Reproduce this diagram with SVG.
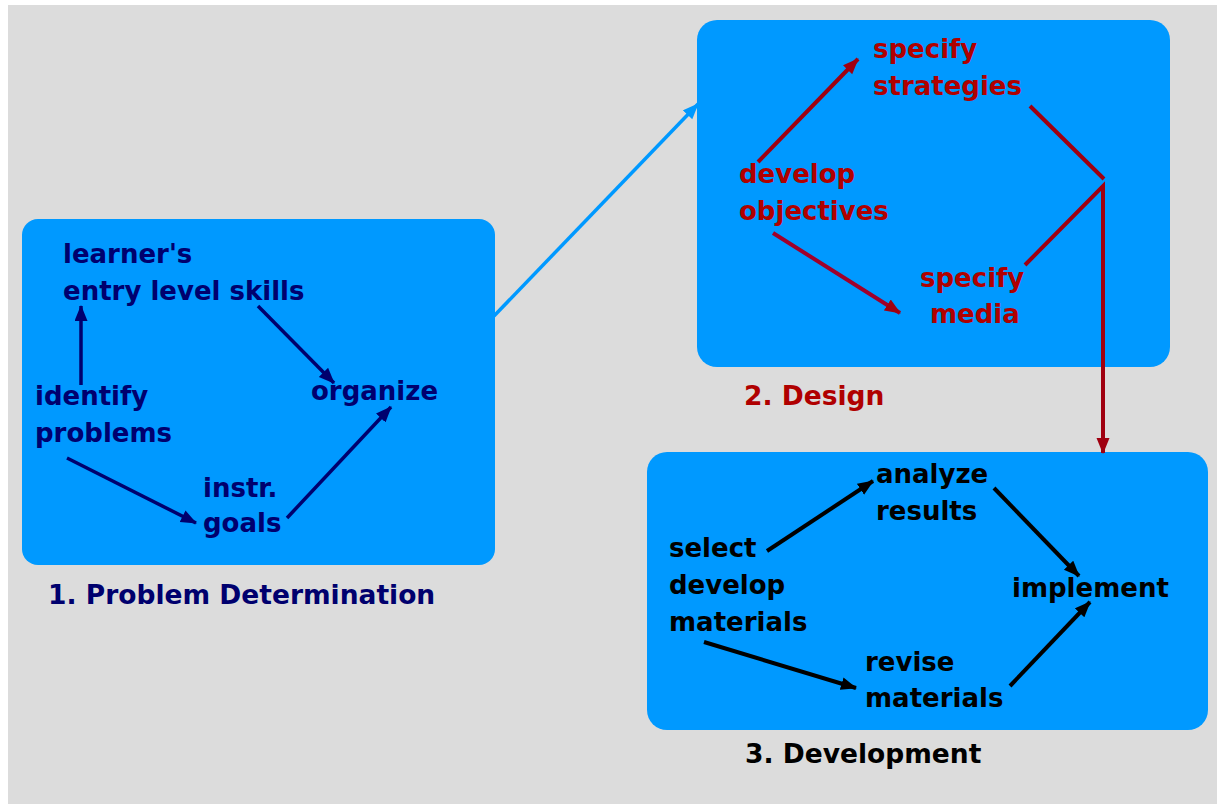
<svg xmlns="http://www.w3.org/2000/svg" width="1217" height="804" viewBox="0 0 1217 804">
<style>
.box{fill:#0099ff}
text{font-family:"DejaVu Sans",Verdana,sans-serif;font-weight:bold;font-size:26px}
.ttl{font-size:26.5px}
.navy{fill:#00006e}
.red{fill:#b00000}
.blk{fill:#000000}
.cn{fill:none;stroke-linecap:butt}
</style>
<defs>
<marker id="aN" markerUnits="userSpaceOnUse" markerWidth="18" markerHeight="14" refX="15" refY="6.5" orient="auto"><path d="M0,0 L16,6.5 L0,13 Z" fill="#00006e"/></marker>
<marker id="aR" markerUnits="userSpaceOnUse" markerWidth="18" markerHeight="14" refX="15" refY="6.5" orient="auto"><path d="M0,0 L16,6.5 L0,13 Z" fill="#a00010"/></marker>
<marker id="aK" markerUnits="userSpaceOnUse" markerWidth="18" markerHeight="14" refX="15" refY="6.5" orient="auto"><path d="M0,0 L16,6.5 L0,13 Z" fill="#000000"/></marker>
<marker id="aB" markerUnits="userSpaceOnUse" markerWidth="18" markerHeight="14" refX="15" refY="6.5" orient="auto"><path d="M0,0 L16,6.5 L0,13 Z" fill="#0099ff"/></marker>
</defs>
<rect x="0" y="0" width="1217" height="804" fill="#ffffff"/>
<rect x="8" y="5" width="1209" height="799" fill="#dcdcdc"/>

<g id="problem-determination">
<rect class="box" x="22" y="219" width="473" height="346" rx="16"/>
<text class="navy ttl" x="48" y="604">1. Problem Determination</text>
</g>
<g id="design">
<rect class="box" x="697" y="20" width="473" height="347" rx="20"/>
<text class="red ttl" x="744" y="405">2. Design</text>
</g>
<g id="development">
<rect class="box" x="647" y="452" width="561" height="278" rx="20"/>
<text class="blk ttl" x="745" y="763">3. Development</text>
</g>

<g id="learners-skills"><text class="navy" x="63" y="263">learner's</text><text class="navy" x="63" y="300">entry level skills</text></g>
<g id="identify-problems"><text class="navy" x="35" y="405">identify</text><text class="navy" x="35" y="442">problems</text></g>
<g id="organize"><text class="navy" x="311" y="400">organize</text></g>
<g id="instr-goals"><text class="navy" x="203" y="497">instr.</text><text class="navy" x="203" y="532">goals</text></g>

<g id="specify-strategies"><text class="red" x="873" y="58">specify</text><text class="red" x="873" y="95">strategies</text></g>
<g id="develop-objectives"><text class="red" x="739" y="183">develop</text><text class="red" x="739" y="220">objectives</text></g>
<g id="specify-media"><text class="red" x="920" y="287">specify</text><text class="red" x="930" y="323">media</text></g>

<g id="analyze-results"><text class="blk" x="876" y="483">analyze</text><text class="blk" x="876" y="520">results</text></g>
<g id="select-develop"><text class="blk" x="669" y="557">select</text><text class="blk" x="669" y="594">develop</text><text class="blk" x="669" y="631">materials</text></g>
<g id="implement"><text class="blk" x="1012" y="597">implement</text></g>
<g id="revise-materials"><text class="blk" x="865" y="671">revise</text><text class="blk" x="865" y="707">materials</text></g>

<g id="connectors" class="cn">
<line x1="494" y1="316" x2="698" y2="104" stroke="#0099ff" stroke-width="3.5" marker-end="url(#aB)"/>
<line x1="81" y1="385" x2="81" y2="306" stroke="#00006e" stroke-width="3.5" marker-end="url(#aN)"/>
<line x1="258" y1="306" x2="334" y2="383" stroke="#00006e" stroke-width="3.5" marker-end="url(#aN)"/>
<line x1="67" y1="458" x2="196" y2="523" stroke="#00006e" stroke-width="3.5" marker-end="url(#aN)"/>
<line x1="287" y1="518" x2="391" y2="407" stroke="#00006e" stroke-width="3.5" marker-end="url(#aN)"/>
<line x1="758" y1="162" x2="858" y2="59" stroke="#a00010" stroke-width="4" marker-end="url(#aR)"/>
<line x1="773" y1="233" x2="900" y2="313" stroke="#a0002a" stroke-width="4" marker-end="url(#aR)"/>
<polyline points="1030,106 1104,179" stroke="#a00010" stroke-width="4"/>
<polyline points="1025,265 1103,186 1103,453" stroke="#a00010" stroke-width="4" fill="none" marker-end="url(#aR)"/>
<line x1="767" y1="551" x2="873" y2="481" stroke="#000000" stroke-width="4" marker-end="url(#aK)"/>
<line x1="994" y1="488" x2="1079" y2="576" stroke="#000000" stroke-width="4" marker-end="url(#aK)"/>
<line x1="704" y1="642" x2="856" y2="688" stroke="#000000" stroke-width="4" marker-end="url(#aK)"/>
<line x1="1010" y1="686" x2="1090" y2="602" stroke="#000000" stroke-width="4" marker-end="url(#aK)"/>
</g>
</svg>
